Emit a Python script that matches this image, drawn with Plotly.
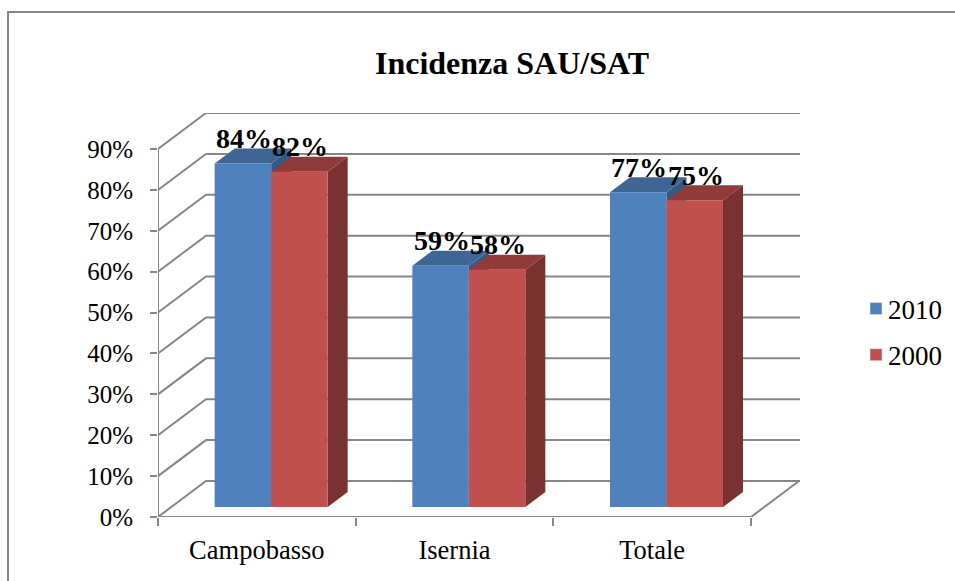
import plotly.graph_objects as go

title = "Incidenza SAU/SAT"
categories = ["Campobasso", "Isernia", "Totale"]
series_names = ["2010", "2000"]
values_2010 = [84, 59, 77]
values_2000 = [82, 58, 75]
y_ticks = [0, 10, 20, 30, 40, 50, 60, 70, 80, 90]

BLUE, BLUE_TOP, BLUE_SIDE = "#4F81BD", "#3E6594", "#345A87"
RED, RED_TOP, RED_SIDE = "#C0504D", "#8E3B39", "#7A3231"
GRID = "#868686"
FONT = "Liberation Serif"

# layout in pixels
W, H = 955, 581
L, R_EDGE, TOP, BOTTOM = 158, 800, 113, 517
X_UNIT = (751 - 158) / 3          # px per category
Y_UNIT = (517 - 149) / 90         # px per percent
XMAX = (R_EDGE - L) / X_UNIT
YMAX = (BOTTOM - TOP) / Y_UNIT
DEPTH_X = 48 / X_UNIT             # full floor depth in axis units
DEPTH_Y = 36 / Y_UNIT
BAR_D0, BAR_D1 = 10 / 36, 25 / 36  # depth span of the bars
BAR_W = 56.5 / X_UNIT
BAR_NUDGE = 1 / X_UNIT


def project(x, y, d):
    return x + DEPTH_X * d, y + DEPTH_Y * d


def poly(points, color):
    xs = [p[0] for p in points] + [points[0][0]]
    ys = [p[1] for p in points] + [points[0][1]]
    return go.Scatter(x=xs, y=ys, mode="lines", fill="toself", fillcolor=color,
                      line=dict(width=0, color=color), showlegend=False,
                      hoverinfo="skip", cliponaxis=False)


def gray_line(xs, ys):
    return go.Scatter(x=xs, y=ys, mode="lines", line=dict(color=GRID, width=2),
                      showlegend=False, hoverinfo="skip", cliponaxis=False)


fig = go.Figure()

# walls and floor
for v in y_ticks:
    bx, by = project(0, v, 1)
    fig.add_trace(gray_line([0, bx, XMAX], [v, by, by]))
fig.add_trace(gray_line([0, 0], [0, y_ticks[-1]]))
fig.add_trace(gray_line([0, len(categories)], [0, 0]))
ex, ey = project(len(categories), 0, 1)
fig.add_trace(gray_line([len(categories), ex], [0, ey]))

# bars: blue first, then red, so red hides the lower part of blue's side
annotations = []
for i in range(len(categories)):
    for s, (val, front, top, side) in enumerate([
        (values_2010[i], BLUE, BLUE_TOP, BLUE_SIDE),
        (values_2000[i], RED, RED_TOP, RED_SIDE),
    ]):
        x0 = i + 0.5 - BAR_W + s * BAR_W + BAR_NUDGE
        x1 = x0 + BAR_W
        fa, fb = project(x0, 0, BAR_D0), project(x1, 0, BAR_D0)
        ta, tb = (fa[0], fa[1] + val), (fb[0], fb[1] + val)
        ba = project(x1, 0, BAR_D1)
        bt = (ba[0], ba[1] + val)
        bl = project(x0, val, BAR_D1)
        fig.add_trace(poly([fb, ba, bt, tb], side))
        fig.add_trace(poly([ta, bl, bt, tb], top))
        fig.add_trace(poly([fa, fb, tb, ta], front))
        annotations.append(dict(
            x=(ta[0] + tb[0]) / 2, y=ta[1], xref="x", yref="y",
            text=f"<b>{val}%</b>", showarrow=False, yshift=25, xshift=1, xanchor="center",
            yanchor="middle", font=dict(family=FONT, size=28, color="#000000")))

# legend entries
for name, color in zip(series_names, [BLUE, RED]):
    fig.add_trace(go.Bar(x=[None], y=[None], name=name, marker_color=color,
                         legendgroup=name, hoverinfo="skip"))

fig.update_layout(
    width=W, height=H, autosize=False,
    margin=dict(l=L, r=W - R_EDGE, t=TOP, b=H - BOTTOM, pad=0),
    paper_bgcolor="white", plot_bgcolor="white",
    font=dict(family=FONT, size=25, color="#000000"),
    title=dict(text=f"<b>{title}</b>", x=512 / W, xref="container", xanchor="center",
               y=1 - 63 / H, yref="container", yanchor="middle",
               font=dict(family=FONT, size=32, color="#000000")),
    xaxis=dict(range=[0, XMAX], showgrid=False, zeroline=False, showline=False,
               tickmode="array", tickvals=[i + 0.5 for i in range(len(categories))],
               ticktext=categories, ticks="", ticklabelstandoff=14,
               tickfont=dict(family=FONT, size=26.5, color="#000000"),
               minor=dict(tickmode="array", tickvals=list(range(len(categories) + 1)),
                          ticks="outside", ticklen=8, tickwidth=2, tickcolor=GRID,
                          showgrid=False)),
    yaxis=dict(range=[0, YMAX], showgrid=False, zeroline=False, showline=False,
               tickmode="array", tickvals=y_ticks, ticktext=[f"{v}%" for v in y_ticks],
               ticks="outside", ticklen=7, tickwidth=2, tickcolor=GRID,
               ticklabelstandoff=12),
    legend=dict(xref="container", yref="container", x=856 / W, xanchor="left",
                y=1 - 332 / H, yanchor="middle",
                traceorder="grouped", tracegroupgap=8, borderwidth=0,
                font=dict(family=FONT, size=27, color="#000000"),
                bgcolor="rgba(0,0,0,0)"),
    annotations=annotations,
    shapes=[dict(type="path", xref="paper", yref="paper",
                 path=(f"M {(8 - L) / (R_EDGE - L)} {(BOTTOM - H) / (BOTTOM - TOP)} "
                       f"L {(8 - L) / (R_EDGE - L)} {(BOTTOM - 12) / (BOTTOM - TOP)} "
                       f"L {(W - L) / (R_EDGE - L)} {(BOTTOM - 12) / (BOTTOM - TOP)}"),
                 line=dict(color=GRID, width=2))],
)

fig.write_html("out.html", config={"displayModeBar": False},
               post_script="document.body.style.margin='0';document.body.style.overflow='hidden';"
                           "document.querySelectorAll('.legendtext').forEach(t=>t.setAttribute('x',32));")
